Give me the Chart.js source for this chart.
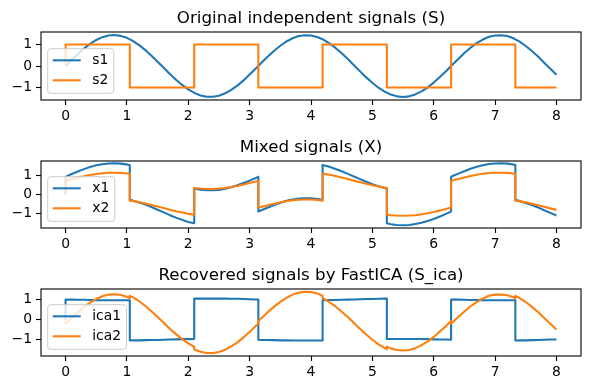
<!DOCTYPE html>
<html>
<head>
<meta charset="utf-8">
<script src="https://cdn.jsdelivr.net/npm/chart.js@4.4.0/dist/chart.umd.min.js"></script>
<style>
  body { margin: 0; background: #fff; }
  .panel { position: absolute; left: 0; width: 590px; height: 130px; }
</style>
</head>
<body>
<div class="panel" style="top:0px"><canvas id="c1" width="590" height="130"></canvas></div>
<div class="panel" style="top:129px"><canvas id="c2" width="590" height="130"></canvas></div>
<div class="panel" style="top:257px"><canvas id="c3" width="590" height="130"></canvas></div>
<script>
// sample times (jump instants listed twice: value before / after the switch)
const time = [
  0, 0, 0.1, 0.2, 0.3, 0.4, 0.5, 0.6, 0.7, 0.8, 0.9, 1.0, 1.047,
  1.047, 1.1, 1.2, 1.3, 1.4, 1.5, 1.6, 1.7, 1.8, 1.9, 2.0, 2.094,
  2.094, 2.1, 2.2, 2.3, 2.4, 2.5, 2.6, 2.7, 2.8, 2.9, 3.0, 3.1, 3.142,
  3.142, 3.2, 3.3, 3.4, 3.5, 3.6, 3.7, 3.8, 3.9, 4.0, 4.1, 4.189,
  4.189, 4.2, 4.3, 4.4, 4.5, 4.6, 4.7, 4.8, 4.9, 5.0, 5.1, 5.2, 5.236,
  5.236, 5.3, 5.4, 5.5, 5.6, 5.7, 5.8, 5.9, 6.0, 6.1, 6.2, 6.283,
  6.283, 6.3, 6.4, 6.5, 6.6, 6.7, 6.8, 6.9, 7.0, 7.1, 7.2, 7.3, 7.33,
  7.33, 7.4, 7.5, 7.6, 7.7, 7.8, 7.9, 8.0
];

const s1 = [
  0, 0, 0.29, 0.56, 0.81, 1.03, 1.21, 1.34, 1.42, 1.44, 1.40, 1.31, 1.24,
  1.24, 1.16, 0.97, 0.74, 0.48, 0.20, -0.08, -0.37, -0.64, -0.88, -1.09, -1.24,
  -1.24, -1.25, -1.37, -1.43, -1.43, -1.38, -1.27, -1.11, -0.91, -0.67, -0.40, -0.12, 0,
  0, 0.17, 0.45, 0.71, 0.94, 1.14, 1.29, 1.39, 1.43, 1.42, 1.35, 1.24,
  1.24, 1.23, 1.05, 0.84, 0.59, 0.32, 0.04, -0.25, -0.53, -0.78, -1.01, -1.19, -1.24,
  -1.24, -1.33, -1.41, -1.44, -1.41, -1.32, -1.18, -1.00, -0.77, -0.51, -0.24, 0,
  0, 0.05, 0.33, 0.60, 0.85, 1.06, 1.23, 1.36, 1.42, 1.43, 1.39, 1.29, 1.24,
  1.24, 1.13, 0.93, 0.70, 0.44, 0.15, -0.13, -0.41
];

const s2 = [
  0, 1, 1, 1, 1, 1, 1, 1, 1, 1, 1, 1, 1,
  -1, -1, -1, -1, -1, -1, -1, -1, -1, -1, -1, -1,
  1, 1, 1, 1, 1, 1, 1, 1, 1, 1, 1, 1, 1,
  -1, -1, -1, -1, -1, -1, -1, -1, -1, -1, -1, -1,
  1, 1, 1, 1, 1, 1, 1, 1, 1, 1, 1, 1, 1,
  -1, -1, -1, -1, -1, -1, -1, -1, -1, -1, -1, -1,
  1, 1, 1, 1, 1, 1, 1, 1, 1, 1, 1, 1, 1,
  -1, -1, -1, -1, -1, -1, -1, -1
];

const x1 = [
  0, 0.92, 1.07, 1.20, 1.33, 1.44, 1.53, 1.59, 1.63, 1.64, 1.62, 1.58, 1.54,
  -0.30, -0.34, -0.44, -0.55, -0.68, -0.82, -0.96, -1.11, -1.24, -1.36, -1.47, -1.54,
  0.30, 0.30, 0.24, 0.21, 0.21, 0.23, 0.29, 0.37, 0.47, 0.59, 0.72, 0.86, 0.92,
  -0.92, -0.84, -0.70, -0.57, -0.45, -0.35, -0.28, -0.23, -0.21, -0.21, -0.25, -0.30,
  1.54, 1.54, 1.45, 1.34, 1.22, 1.08, 0.94, 0.80, 0.66, 0.53, 0.42, 0.33, 0.30,
  -1.54, -1.59, -1.63, -1.64, -1.63, -1.58, -1.51, -1.42, -1.31, -1.18, -1.04, -0.92,
  0.92, 0.95, 1.09, 1.22, 1.35, 1.45, 1.54, 1.60, 1.63, 1.64, 1.62, 1.57, 1.54,
  -0.30, -0.36, -0.46, -0.57, -0.70, -0.85, -0.99, -1.13
];

const x2 = [
  0, 0.71, 0.80, 0.88, 0.95, 1.02, 1.07, 1.11, 1.14, 1.14, 1.13, 1.10, 1.08,
  -0.34, -0.36, -0.42, -0.49, -0.57, -0.65, -0.73, -0.82, -0.90, -0.97, -1.04, -1.08,
  0.34, 0.33, 0.30, 0.28, 0.28, 0.30, 0.33, 0.38, 0.44, 0.51, 0.59, 0.67, 0.71,
  -0.71, -0.66, -0.58, -0.50, -0.43, -0.37, -0.32, -0.29, -0.28, -0.28, -0.31, -0.34,
  1.08, 1.08, 1.03, 0.96, 0.89, 0.81, 0.72, 0.64, 0.55, 0.48, 0.41, 0.35, 0.34,
  -1.08, -1.11, -1.13, -1.14, -1.13, -1.11, -1.06, -1.01, -0.94, -0.86, -0.78, -0.71,
  0.71, 0.73, 0.81, 0.89, 0.97, 1.03, 1.08, 1.12, 1.14, 1.14, 1.13, 1.10, 1.08,
  -0.34, -0.37, -0.43, -0.50, -0.58, -0.67, -0.75, -0.83
];

const ica1 = [
  -0.01, 1.00, 0.99, 0.98, 0.98, 0.97, 0.96, 0.96, 0.96, 0.96, 0.96, 0.96, 0.96,
  -1.05, -1.04, -1.04, -1.03, -1.02, -1.02, -1.01, -1.00, -0.99, -0.98, -0.98, -0.97,
  1.04, 1.04, 1.04, 1.04, 1.04, 1.04, 1.04, 1.03, 1.03, 1.02, 1.01, 1.00, 1.00,
  -1.01, -1.02, -1.02, -1.03, -1.04, -1.04, -1.05, -1.05, -1.05, -1.05, -1.05, -1.05,
  0.96, 0.96, 0.97, 0.97, 0.98, 0.99, 1.00, 1.01, 1.02, 1.02, 1.03, 1.04, 1.04,
  -0.97, -0.97, -0.97, -0.97, -0.97, -0.97, -0.97, -0.98, -0.99, -1.00, -1.00, -1.01,
  1.00, 1.00, 0.99, 0.98, 0.97, 0.97, 0.96, 0.96, 0.96, 0.96, 0.96, 0.96, 0.96,
  -1.05, -1.04, -1.04, -1.03, -1.02, -1.01, -1.00, -1.00
];

const ica2 = [
  -0.15, -0.21, 0.09, 0.36, 0.62, 0.84, 1.02, 1.16, 1.24, 1.26, 1.22, 1.13, 1.06,
  1.18, 1.10, 0.91, 0.67, 0.41, 0.12, -0.16, -0.46, -0.73, -0.98, -1.19, -1.35,
  -1.48, -1.49, -1.61, -1.67, -1.67, -1.62, -1.51, -1.34, -1.14, -0.89, -0.62, -0.33, -0.21,
  -0.08, 0.09, 0.38, 0.64, 0.88, 1.08, 1.24, 1.34, 1.38, 1.37, 1.30, 1.18,
  1.06, 1.05, 0.86, 0.65, 0.39, 0.12, -0.17, -0.47, -0.75, -1.01, -1.24, -1.42, -1.48,
  -1.35, -1.44, -1.52, -1.55, -1.52, -1.43, -1.28, -1.10, -0.87, -0.60, -0.33, -0.08,
  -0.21, -0.16, 0.13, 0.40, 0.66, 0.87, 1.05, 1.18, 1.24, 1.25, 1.21, 1.11, 1.06,
  1.18, 1.07, 0.87, 0.63, 0.37, 0.07, -0.21, -0.50
];

const xTicks = [0, 1, 2, 3, 4, 5, 6, 7, 8];
const yTicks = [-1, 0, 1];

const BLUE = '#1f77b4';
const ORANGE = '#ff7f0e';
const FONT = '"DejaVu Sans", sans-serif';

const toPoints = (vals) => time.map((t, i) => ({ x: t, y: vals[i] }));

const roundRect = (ctx, x, y, w, h, r) => {
  ctx.beginPath();
  ctx.moveTo(x + r, y);
  ctx.lineTo(x + w - r, y);
  ctx.arcTo(x + w, y, x + w, y + r, r);
  ctx.lineTo(x + w, y + h - r);
  ctx.arcTo(x + w, y + h, x + w - r, y + h, r);
  ctx.lineTo(x + r, y + h);
  ctx.arcTo(x, y + h, x, y + h - r, r);
  ctx.lineTo(x, y + r);
  ctx.arcTo(x, y, x + r, y, r);
  ctx.closePath();
};

// frame, title and matplotlib-like legend
const panelDecor = {
  id: 'panelDecor',
  afterDraw(chart, args, opts) {
    const { ctx, chartArea: a } = chart;
    ctx.save();
    ctx.strokeStyle = '#000';
    ctx.lineWidth = 1.1;
    ctx.strokeRect(a.left, a.top, a.right - a.left, a.bottom - a.top);

    ctx.fillStyle = '#000';
    ctx.font = '16.7px ' + FONT;
    ctx.textAlign = 'center';
    ctx.textBaseline = 'alphabetic';
    ctx.fillText(opts.title, (a.left + a.right) / 2, a.top - 9.5);

    ctx.font = '13.9px ' + FONT;
    const textW = Math.max(...opts.labels.map(l => ctx.measureText(l).width));
    const boxW = 44.5 + textW + 5.5;
    const boxH = 44.6;
    const bx = a.left + 6.7;
    const by = a.bottom - 6.7 - boxH;
    roundRect(ctx, bx, by, boxW, boxH, 3);
    ctx.fillStyle = 'rgba(255,255,255,0.8)';
    ctx.fill();
    ctx.strokeStyle = '#cccccc';
    ctx.lineWidth = 1;
    ctx.stroke();

    const colors = [BLUE, ORANGE];
    opts.labels.forEach((label, i) => {
      const ry = by + 11.6 + i * 20;
      ctx.strokeStyle = colors[i];
      ctx.lineWidth = 2.08;
      ctx.beginPath();
      ctx.moveTo(bx + 5, ry);
      ctx.lineTo(bx + 33, ry);
      ctx.stroke();
      ctx.fillStyle = '#000';
      ctx.textAlign = 'left';
      ctx.textBaseline = 'middle';
      ctx.fillText(label, bx + 44.5, ry + 0.5);
    });
    ctx.restore();
  }
};

const makePanel = (id, title, labels, first, second, yMin, yMax, xAxisHeight) => {
  const ctx = document.getElementById(id).getContext('2d');
  return new Chart(ctx, {
    type: 'line',
    data: {
      datasets: [
        { label: labels[0], data: toPoints(first), borderColor: BLUE, order: 1 },
        { label: labels[1], data: toPoints(second), borderColor: ORANGE, order: 0 }
      ]
    },
    options: {
      responsive: false,
      animation: false,
      events: [],
      layout: { padding: { left: 0, right: 9, top: 32, bottom: 0 } },
      elements: {
        point: { radius: 0 },
        line: { borderWidth: 2.08, tension: 0, fill: false, borderJoinStyle: 'round' }
      },
      scales: {
        x: {
          type: 'linear',
          min: -0.4,
          max: 8.4,
          afterBuildTicks: (s) => { s.ticks = xTicks.map(v => ({ value: v })); },
          afterFit: (s) => { s.height = xAxisHeight; },
          grid: { drawOnChartArea: false, drawTicks: true, tickLength: 5, tickWidth: 1.1, tickColor: '#000' },
          border: { display: false },
          ticks: { color: '#000', font: { family: FONT, size: 13.9 }, padding: 3, maxRotation: 0, autoSkip: false }
        },
        y: {
          type: 'linear',
          min: yMin,
          max: yMax,
          afterBuildTicks: (s) => { s.ticks = yTicks.map(v => ({ value: v })); },
          afterFit: (s) => { s.width = 41; },
          grid: { drawOnChartArea: false, drawTicks: true, tickLength: 5, tickWidth: 1.1, tickColor: '#000' },
          border: { display: false },
          ticks: {
            color: '#000',
            font: { family: FONT, size: 13.9 },
            padding: 4,
            callback: (v) => String(v).replace('-', '\u2212')
          }
        }
      },
      plugins: {
        legend: { display: false },
        tooltip: { enabled: false },
        panelDecor: { title, labels }
      }
    },
    plugins: [panelDecor]
  });
};

makePanel('c1', 'Original independent signals (S)', ['s1', 's2'], s1, s2, -1.58, 1.58, 30);
makePanel('c2', 'Mixed signals (X)', ['x1', 'x2'], x1, x2, -1.79, 1.76, 31);
makePanel('c3', 'Recovered signals by FastICA (S_ica)', ['ica1', 'ica2'], ica1, ica2, -1.82, 1.52, 31);
</script>
</body>
</html>
